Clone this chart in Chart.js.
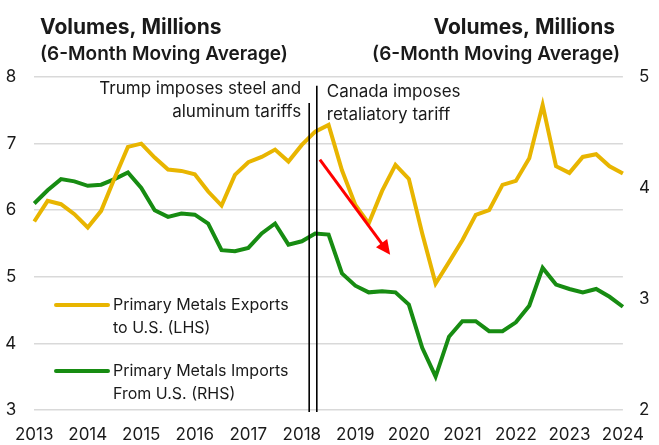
<!DOCTYPE html>
<html lang="en">
	<head>
		<meta charset="UTF-8" />
		<title>Primary Metals Trade</title>
		<script src="https://cdn.jsdelivr.net/npm/chart.js@4.4.1/dist/chart.umd.min.js"></script>
		<style>
			html, body { margin: 0; padding: 0; background: #fff; overflow: hidden; }
			#wrap { width: 659px; height: 445px; position: relative; }
			#wrap canvas { display: block; }
		</style>
	</head>
	<body>
		<div id="wrap"><canvas id="metalsChart"></canvas></div>

		<script>
			// quarterly points, 6-month moving average
			const quarters = [
				"2013Q1", "2013Q2", "2013Q3", "2013Q4", "2014Q1", "2014Q2", "2014Q3", "2014Q4",
				"2015Q1", "2015Q2", "2015Q3", "2015Q4", "2016Q1", "2016Q2", "2016Q3", "2016Q4",
				"2017Q1", "2017Q2", "2017Q3", "2017Q4", "2018Q1", "2018Q2", "2018Q3", "2018Q4",
				"2019Q1", "2019Q2", "2019Q3", "2019Q4", "2020Q1", "2020Q2", "2020Q3", "2020Q4",
				"2021Q1", "2021Q2", "2021Q3", "2021Q4", "2022Q1", "2022Q2", "2022Q3", "2022Q4",
				"2023Q1", "2023Q2", "2023Q3", "2023Q4", "2024Q1",
			];
			// exports to U.S., millions (left axis)
			const exportsToUS = [
				5.83, 6.14, 6.09, 5.94, 5.74, 5.99, 6.48, 6.95, 7.0, 6.79, 6.61, 6.59, 6.54, 6.28, 6.07,
				6.53, 6.72, 6.8, 6.91, 6.73, 6.98, 7.18, 7.28, 6.6, 6.08, 5.8, 6.29, 6.68, 6.47, 5.65, 4.9,
				5.22, 5.55, 5.93, 6.0, 6.38, 6.44, 6.78, 7.58, 6.66, 6.56, 6.8, 6.84, 6.66, 6.55,
			];
			// imports from U.S., millions (right axis)
			const importsFromUS = [
				3.86, 3.98, 4.08, 4.06, 4.02, 4.03, 4.08, 4.14, 4.0, 3.8, 3.74, 3.77, 3.76, 3.68, 3.44,
				3.43, 3.46, 3.59, 3.68, 3.49, 3.52, 3.59, 3.58, 3.23, 3.12, 3.06, 3.07, 3.06, 2.95, 2.56,
				2.3, 2.66, 2.8, 2.8, 2.71, 2.71, 2.79, 2.94, 3.28, 3.13, 3.09, 3.06, 3.09, 3.02, 2.93,
			];
			const leftTicks = [3, 4, 5, 6, 7, 8];
			const rightTicks = [2, 3, 4, 5];

			const seriesNames = [
				["Primary Metals Exports", "to U.S. (LHS)"],
				["Primary Metals Imports", "From U.S. (RHS)"],
			];
			const yellow = "#e8b500";
			const green = "#178c12";
			const ink = "#1a1a1a";
			const FONT = "Inter, 'Noto Sans', sans-serif";

			// tariff events (x in quarter index, top in left-axis units)
			const eventLines = [
				{ at: 20.55, top: 7.61 },
				{ at: 21.12, top: 7.87 },
			];
			const arrowFrom = { x: 21.35, y: 6.76 };
			const arrowTo = { x: 26.6, y: 5.33 };

			const overlay = {
				id: "overlay",
				afterDatasetsDraw(chart) {
					const { ctx, scales } = chart;
					const x = scales.x, y = scales.yL;
					ctx.save();
					// event lines
					ctx.strokeStyle = "#000";
					ctx.lineWidth = 1.6;
					eventLines.forEach((l) => {
						const px = x.getPixelForValue(l.at);
						ctx.beginPath();
						ctx.moveTo(px, y.getPixelForValue(l.top));
						ctx.lineTo(px, y.bottom + 2);
						ctx.stroke();
					});
					// red arrow
					const x0 = x.getPixelForValue(arrowFrom.x), y0 = y.getPixelForValue(arrowFrom.y);
					const x1 = x.getPixelForValue(arrowTo.x), y1 = y.getPixelForValue(arrowTo.y);
					const ang = Math.atan2(y1 - y0, x1 - x0);
					const head = 16;
					ctx.strokeStyle = "#ff0000";
					ctx.fillStyle = "#ff0000";
					ctx.lineWidth = 3;
					ctx.beginPath();
					ctx.moveTo(x0, y0);
					ctx.lineTo(x1 - head * 0.8 * Math.cos(ang), y1 - head * 0.8 * Math.sin(ang));
					ctx.stroke();
					ctx.beginPath();
					ctx.moveTo(x1, y1);
					ctx.lineTo(x1 - head * Math.cos(ang - 0.45), y1 - head * Math.sin(ang - 0.45));
					ctx.lineTo(x1 - head * Math.cos(ang + 0.45), y1 - head * Math.sin(ang + 0.45));
					ctx.closePath();
					ctx.fill();
					ctx.restore();
				},
				afterDraw(chart) {
					const { ctx, scales } = chart;
					const x = scales.x;
					ctx.save();
					ctx.fillStyle = ink;
					ctx.textBaseline = "middle";

					// axis titles
					ctx.font = "bold 21px " + FONT;
					ctx.textAlign = "left";
					ctx.fillText("Volumes, Millions", 40, 28);
					ctx.textAlign = "right";
					ctx.fillText("Volumes, Millions", 615, 28);
					ctx.font = "600 19px " + FONT;
					ctx.textAlign = "left";
					ctx.fillText("(6-Month Moving Average)", 40, 54);
					ctx.textAlign = "right";
					ctx.fillText("(6-Month Moving Average)", 620, 54);

					// event notes
					ctx.font = "17px " + FONT;
					const l1 = x.getPixelForValue(eventLines[0].at);
					const l2 = x.getPixelForValue(eventLines[1].at);
					ctx.textAlign = "right";
					ctx.fillText("Trump imposes steel and", l1 - 8, 89);
					ctx.fillText("aluminum tariffs", l1 - 8, 112);
					ctx.textAlign = "left";
					ctx.fillText("Canada imposes", l2 + 10, 92);
					ctx.fillText("retaliatory tariff", l2 + 10, 115);

					// legend
					ctx.font = "16px " + FONT;
					const colors = [yellow, green];
					const rows = [305, 371];
					seriesNames.forEach((lines, i) => {
						ctx.strokeStyle = colors[i];
						ctx.lineWidth = 4;
						ctx.lineCap = "round";
						ctx.beginPath();
						ctx.moveTo(56, rows[i]);
						ctx.lineTo(108, rows[i]);
						ctx.stroke();
						ctx.textAlign = "left";
						ctx.fillText(lines[0], 113, rows[i]);
						ctx.fillText(lines[1], 113, rows[i] + 23);
					});
					ctx.restore();
				},
			};

			const tickFont = { family: FONT, size: 17 };
			new Chart(document.getElementById("metalsChart"), {
				type: "line",
				data: {
					labels: quarters,
					datasets: [
						{
							label: seriesNames[0].join(" "),
							data: exportsToUS,
							yAxisID: "yL",
							borderColor: yellow,
							borderWidth: 4,
							pointRadius: 0,
							tension: 0,
						},
						{
							label: seriesNames[1].join(" "),
							data: importsFromUS,
							yAxisID: "yR",
							borderColor: green,
							borderWidth: 4,
							pointRadius: 0,
							tension: 0,
						},
					],
				},
				options: {
					responsive: true,
					maintainAspectRatio: false,
					animation: false,
					layout: { padding: { top: 77 } },
					plugins: {
						legend: { display: false },
						tooltip: { enabled: false },
					},
					scales: {
						x: {
							grid: { display: false, drawTicks: false },
							border: { display: false },
							ticks: {
								autoSkip: false,
								maxRotation: 0,
								padding: 15,
								color: ink,
								font: tickFont,
								callback: (v, i) => (quarters[i].endsWith("Q1") ? quarters[i].slice(0, 4) : ""),
							},
							afterFit: (s) => { s.height = 35; },
						},
						yL: {
							position: "left",
							min: leftTicks[0],
							max: leftTicks[leftTicks.length - 1],
							grid: { color: "#d9d9d9", lineWidth: 1.5, drawTicks: false },
							border: { display: false },
							ticks: { stepSize: 1, padding: 18, color: ink, font: tickFont },
							afterFit: (s) => { s.width = 33; },
						},
						yR: {
							position: "right",
							min: rightTicks[0],
							max: rightTicks[rightTicks.length - 1],
							grid: { display: false, drawTicks: false },
							border: { display: false },
							ticks: { stepSize: 1, padding: 16, color: ink, font: tickFont },
							afterFit: (s) => { s.width = 27; },
						},
					},
				},
				plugins: [overlay],
			});
		</script>
	</body>
</html>
